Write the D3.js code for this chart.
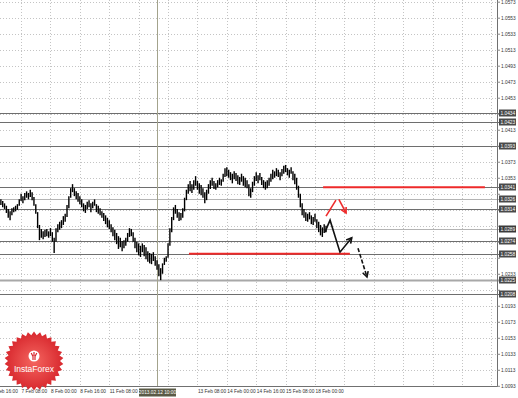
<!DOCTYPE html>
<html>
<head>
<meta charset="utf-8">
<script src="https://cdn.jsdelivr.net/npm/d3@7/dist/d3.min.js"></script>
<style>
  body { margin: 0; background: #fff; }
  svg { display: block; }
  text { font-family: "Liberation Sans", Arial, sans-serif; }
</style>
</head>
<body>
<svg id="chart" width="518" height="398"></svg>
<script>
// EUR/CHF style H1 bars, 6 Feb 16:00 = bar 0
const firstBar = 5;
const highs = [
  1.0326,1.0324,1.0321,1.0318,1.0314,1.0311,1.0315,1.0316,1.0318,1.0320,
  1.0326,1.0333,1.0330,1.0334,1.0336,1.0334,1.0338,1.0335,1.0329,1.0320,
  1.0310,1.0294,1.0289,1.0286,1.0288,1.0289,1.0286,1.0290,1.0285,1.0278,
  1.0290,1.0295,1.0298,1.0300,1.0305,1.0308,1.0319,1.0330,1.0340,1.0345,
  1.0340,1.0336,1.0334,1.0330,1.0326,1.0321,1.0319,1.0323,1.0325,1.0321,
  1.0323,1.0326,1.0320,1.0318,1.0315,1.0311,1.0309,1.0306,1.0303,1.0300,
  1.0295,1.0291,1.0288,1.0284,1.0280,1.0278,1.0274,1.0275,1.0278,1.0284,
  1.0290,1.0289,1.0285,1.0278,1.0273,1.0271,1.0268,1.0271,1.0269,1.0266,
  1.0261,1.0259,1.0258,1.0260,1.0255,1.0250,1.0245,1.0240,1.0246,1.0253,
  1.0255,1.0271,1.0290,1.0304,1.0316,1.0319,1.0314,1.0310,1.0309,1.0315,
  1.0328,1.0338,1.0345,1.0349,1.0345,1.0350,1.0355,1.0349,1.0346,1.0344,
  1.0340,1.0335,1.0338,1.0345,1.0350,1.0353,1.0349,1.0346,1.0350,1.0353,
  1.0351,1.0358,1.0365,1.0366,1.0363,1.0360,1.0358,1.0361,1.0359,1.0356,
  1.0354,1.0358,1.0355,1.0353,1.0350,1.0345,1.0340,1.0348,1.0355,1.0360,
  1.0356,1.0359,1.0354,1.0350,1.0348,1.0350,1.0353,1.0358,1.0363,1.0361,
  1.0365,1.0363,1.0360,1.0364,1.0368,1.0369,1.0365,1.0363,1.0366,1.0361,
  1.0358,1.0353,1.0343,1.0333,1.0321,1.0314,1.0310,1.0308,1.0310,1.0306,
  1.0304,1.0308,1.0301,1.0298,1.0294,1.0291,1.0295,1.0293
];
const lows = [
  1.0319,1.0316,1.0314,1.0309,1.0303,1.0300,1.0306,1.0310,1.0311,1.0313,
  1.0318,1.0324,1.0321,1.0325,1.0328,1.0326,1.0329,1.0325,1.0318,1.0308,
  1.0290,1.0275,1.0278,1.0276,1.0279,1.0280,1.0278,1.0280,1.0273,1.0259,
  1.0273,1.0285,1.0288,1.0290,1.0294,1.0298,1.0304,1.0315,1.0328,1.0335,
  1.0330,1.0326,1.0323,1.0320,1.0316,1.0311,1.0309,1.0314,1.0316,1.0310,
  1.0315,1.0318,1.0310,1.0308,1.0306,1.0303,1.0299,1.0295,1.0291,1.0289,
  1.0285,1.0280,1.0275,1.0270,1.0264,1.0266,1.0261,1.0265,1.0268,1.0273,
  1.0279,1.0280,1.0273,1.0265,1.0260,1.0256,1.0254,1.0260,1.0255,1.0251,
  1.0248,1.0246,1.0245,1.0249,1.0243,1.0238,1.0230,1.0225,1.0233,1.0244,
  1.0248,1.0253,1.0268,1.0285,1.0300,1.0308,1.0303,1.0299,1.0300,1.0303,
  1.0311,1.0325,1.0333,1.0336,1.0334,1.0338,1.0343,1.0338,1.0333,1.0331,
  1.0328,1.0321,1.0325,1.0333,1.0339,1.0343,1.0339,1.0338,1.0341,1.0344,
  1.0343,1.0348,1.0354,1.0355,1.0353,1.0350,1.0346,1.0351,1.0349,1.0345,
  1.0344,1.0348,1.0343,1.0341,1.0340,1.0330,1.0328,1.0335,1.0343,1.0349,
  1.0346,1.0350,1.0344,1.0340,1.0338,1.0340,1.0343,1.0348,1.0351,1.0353,
  1.0355,1.0354,1.0350,1.0355,1.0358,1.0360,1.0356,1.0353,1.0358,1.0350,
  1.0345,1.0338,1.0328,1.0316,1.0306,1.0303,1.0299,1.0298,1.0301,1.0295,
  1.0294,1.0298,1.0290,1.0285,1.0281,1.0279,1.0284,1.0285
];

const priceTicks = ["1.0573","1.0553","1.0533","1.0513","1.0493","1.0473","1.0453","1.0433",
  "1.0413","1.0393","1.0373","1.0353","1.0333","1.0313","1.0293","1.0273","1.0253","1.0233",
  "1.0213","1.0193","1.0173","1.0153","1.0133","1.0113","1.0093"];
const timeTicks = [0,16,32,48,64,80,96,112,128,144,160,176];
const timeLabels = ["6 Feb 16:00","7 Feb 08:00","8 Feb 00:00","8 Feb 16:00","11 Feb 08:00",
  "12 Feb 00:00","12 Feb 16:00","13 Feb 08:00","14 Feb 00:00","14 Feb 16:00","15 Feb 08:00","18 Feb 00:00"];
const futureGrid = [192,208,224,240,256,272];

const levels = [1.0434,1.0423,1.0393,1.0341,1.0326,1.0314,1.0289,1.0274,1.0258,1.0225,1.0208];
const lightLevels = [1.0326,1.0289];
const cursorBar = 90;
const cursorLabel = "2013.02.12 10:00";

const redLevels = [
  {price: 1.0341, from: 180.4, to: 268.5},
  {price: 1.0258, from: 107.4, to: 195}
];
const redUp = [[182,1.0305],[187.4,1.0325]];
const redDown = [[189,1.0326],[192.9,1.0309]];
const blackPath = [[181.4,1.0285],[184.2,1.0300],[189.6,1.0260],[196,1.0278]];
const blackDash = [[199.4,1.0265],[204.3,1.0229]];

const plotR = 497, plotB = 386;
const svg = d3.select("#chart");

const x = d3.scaleLinear().domain([0, 176]).range([-8.3, 315]);
const y = d3.scaleLinear().domain([1.0094, 1.05751]).range([385, 0]);

const plot = svg.append("g");
plot.append("clipPath").attr("id", "clip")
  .append("rect").attr("width", plotR).attr("height", plotB);

// grid
const grid = plot.append("g").attr("stroke", "#c4c4c4").attr("stroke-dasharray", "1,2");
grid.selectAll("line.h").data(priceTicks).join("line")
  .attr("x1", 0).attr("x2", plotR)
  .attr("y1", d => Math.round(y(+d)) + 0.5).attr("y2", d => Math.round(y(+d)) + 0.5);
grid.selectAll("line.v").data(timeTicks.concat(futureGrid)).join("line")
  .attr("x1", d => Math.round(x(d)) + 0.5).attr("x2", d => Math.round(x(d)) + 0.5)
  .attr("y1", 0).attr("y2", plotB);

// horizontal levels
plot.selectAll("line.level").data(levels).join("line")
  .attr("x1", 0).attr("x2", plotR + 3)
  .attr("y1", d => Math.round(y(d)) + 0.5).attr("y2", d => Math.round(y(d)) + 0.5)
  .attr("stroke", d => lightLevels.includes(d) ? "#b4b4b4" : (d === 1.0225 ? "#a8a8a8" : "#6e6e6e"))
  .attr("stroke-width", d => d === 1.0225 ? 2 : 1);

// cursor line
plot.append("line")
  .attr("x1", Math.round(x(cursorBar)) + 0.5).attr("x2", Math.round(x(cursorBar)) + 0.5)
  .attr("y1", 0).attr("y2", plotB)
  .attr("stroke", "#a3a38c").attr("stroke-width", 1);

// bars
const bars = highs.map((h, i) => ({t: firstBar + i, h, l: lows[i]}));
plot.append("g").attr("clip-path", "url(#clip)")
  .selectAll("line").data(bars).join("line")
  .attr("x1", d => x(d.t)).attr("x2", d => x(d.t))
  .attr("y1", d => y(d.h)).attr("y2", d => y(d.l))
  .attr("stroke", "#000").attr("stroke-width", 1.4);

// red levels
plot.selectAll("line.red").data(redLevels).join("line")
  .attr("x1", d => x(d.from)).attr("x2", d => x(d.to))
  .attr("y1", d => y(d.price)).attr("y2", d => y(d.price))
  .attr("stroke", "#ee2a2a").attr("stroke-width", 2);

const line = d3.line().x(d => x(d[0])).y(d => y(d[1]));
function arrowHead(pts, color, len) {
  const a = pts[pts.length - 2], b = pts[pts.length - 1];
  const bx = x(b[0]), by = y(b[1]);
  const ang = Math.atan2(by - y(a[1]), bx - x(a[0]));
  const head = [-0.5, 0.5].map(o => [bx - len * Math.cos(ang + o), by - len * Math.sin(ang + o)]);
  plot.append("path")
    .attr("d", `M${head[0]}L${bx},${by}L${head[1]}`)
    .attr("fill", "none").attr("stroke", color).attr("stroke-width", 1.6);
}
function drawPath(pts, color, dash) {
  plot.append("path").attr("d", line(pts))
    .attr("fill", "none").attr("stroke", color).attr("stroke-width", 1.6)
    .attr("stroke-dasharray", dash || null);
}
drawPath(redUp, "#ee2a2a");
drawPath(redDown, "#ee2a2a");
arrowHead(redDown, "#ee2a2a", 6);
drawPath(blackPath, "#111");
arrowHead(blackPath, "#111", 6);
drawPath(blackDash, "#111", "4,2");
arrowHead(blackDash, "#111", 6);

// axes frame
svg.append("line").attr("x1", plotR + 0.5).attr("x2", plotR + 0.5).attr("y1", 0).attr("y2", plotB)
  .attr("stroke", "#707070");
svg.append("line").attr("x1", 0).attr("x2", plotR + 1).attr("y1", plotB + 0.5).attr("y2", plotB + 0.5)
  .attr("stroke", "#707070");

// price axis
const yAxis = svg.append("g").attr("transform", `translate(${plotR},0)`)
  .call(d3.axisRight(y).tickValues(priceTicks.map(Number)).tickSize(3).tickPadding(1)
    .tickFormat(d => d.toFixed(4)));
yAxis.select(".domain").remove();
yAxis.selectAll(".tick line").attr("stroke", "#888");
yAxis.selectAll(".tick text")
  .attr("font-size", 4.8).attr("fill", "#333").attr("font-family", null)
  .style("display", d => levels.some(l => Math.abs(y(l) - y(d)) < 6) ? "none" : null);

const boxes = svg.append("g").selectAll("g").data(levels).join("g")
  .attr("transform", d => `translate(${plotR + 2},${Math.round(y(d))})`);
boxes.append("rect").attr("x", 0).attr("y", -3.5).attr("width", 17).attr("height", 7)
  .attr("fill", d => d === 1.0289 ? "#3a3a3a" : "#4a4a4a");
boxes.append("text").attr("x", 1.5).attr("y", 1.8).attr("font-size", 4.8).attr("fill", "#fff")
  .text(d => d.toFixed(4));

// time axis (the cursor box covers the labels under it)
const cx = Math.round(x(cursorBar));
const boxL = cx - 18, boxR = cx + 19;
const xAxis = svg.append("g").attr("transform", `translate(0,${plotB})`)
  .call(d3.axisBottom(x).tickValues(timeTicks).tickSize(0).tickPadding(4)
    .tickFormat((d, i) => timeLabels[i]));
xAxis.select(".domain").remove();
xAxis.selectAll(".tick text")
  .attr("font-size", 4.8).attr("fill", "#333").attr("font-family", null)
  .attr("text-anchor", "start").attr("dx", 0)
  .style("display", d => (x(d) > boxL - 10 && x(d) < boxR) ? "none" : null);

svg.append("rect").attr("x", boxL).attr("y", plotB + 2.5).attr("width", boxR - boxL).attr("height", 8)
  .attr("fill", "#5a5a46");
svg.append("text").attr("x", cx + 0.5).attr("y", plotB + 8.3).attr("text-anchor", "middle")
  .attr("font-size", 4.8).attr("fill", "#fff").text(cursorLabel);

// InstaForex badge
const badge = svg.append("g").attr("transform", "translate(34,361)");
const grad = svg.append("defs").append("radialGradient").attr("id", "bg");
grad.append("stop").attr("offset", "0%").attr("stop-color", "#f4655f");
grad.append("stop").attr("offset", "100%").attr("stop-color", "#d8282e");
const spikes = 30;
const starPts = d3.range(spikes * 2).map(k => [k * Math.PI / spikes, k % 2 ? 26 : 29.5]);
badge.append("path")
  .attr("d", d3.lineRadial().curve(d3.curveLinearClosed)(starPts))
  .attr("fill", "url(#bg)");
badge.append("circle").attr("cy", -5).attr("r", 5.5).attr("fill", "#fff");
badge.append("path")
  .attr("d", "M-2.8,-8 L-1,-4.5 L-1,-1 M2.8,-8 L1,-4.5 L1,-1 M0,-9 L0,-5")
  .attr("fill", "none").attr("stroke", "#d8282e").attr("stroke-width", 1.2);
badge.append("text").attr("y", 11).attr("text-anchor", "middle")
  .attr("font-size", 8.5).attr("fill", "#fff").text("InstaForex");
</script>
</body>
</html>
